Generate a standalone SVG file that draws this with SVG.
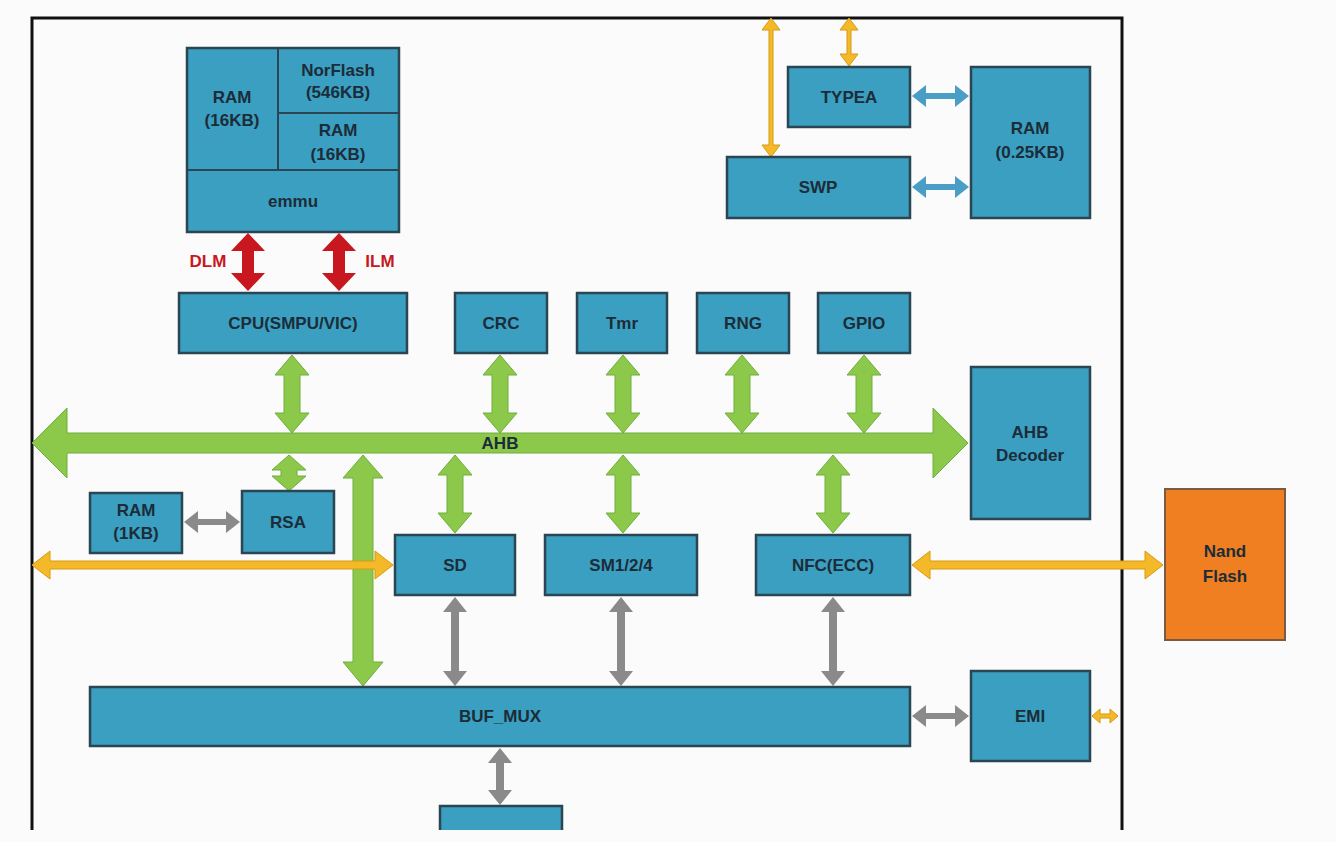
<svg xmlns="http://www.w3.org/2000/svg" width="1336" height="842" viewBox="0 0 1336 842">
<style>
.b{fill:#3a9fc0;stroke:#2b4552;stroke-width:2.5}
.t{font-family:"Liberation Sans",Arial,sans-serif;font-weight:bold;font-size:17px;fill:#1c2c38;text-anchor:middle}
.g{fill:#8cc84a;stroke:#6fae3a;stroke-width:1}
.y{fill:#f4b928;stroke:#d89a10;stroke-width:1}
.gr{fill:#8a8a8a}
.r{fill:#c8171e}
.bl{fill:#4a9ec6}
.rt{font-family:"Liberation Sans",Arial,sans-serif;font-weight:bold;font-size:17px;fill:#c8171e;text-anchor:middle}
</style>
<rect width="1336" height="842" fill="#fbfbfb"/>
<path d="M32 830V18H1122V830" fill="none" stroke="#111" stroke-width="3"/>
<g id="connectors">
<polygon class="g" points="32,443 67,408 67,433 933,433 933,408 968,443 933,478 933,453 67,453 67,478"/>
<polygon class="r" points="248,233 265,251 254,251 254,273 265,273 248,291 231,273 242,273 242,251 231,251"/>
<polygon class="r" points="339,233 356,251 345,251 345,273 356,273 339,291 322,273 333,273 333,251 322,251"/>
<polygon class="g" points="292,355 309,375 300,375 300,413 309,413 292,433 275,413 284,413 284,375 275,375"/>
<polygon class="g" points="500,355 517,375 508,375 508,413 517,413 500,433 483,413 492,413 492,375 483,375"/>
<polygon class="g" points="623,355 640,375 631,375 631,413 640,413 623,433 606,413 615,413 615,375 606,375"/>
<polygon class="g" points="742,355 759,375 750,375 750,413 759,413 742,433 725,413 734,413 734,375 725,375"/>
<polygon class="g" points="864,355 881,375 872,375 872,413 881,413 864,433 847,413 856,413 856,375 847,375"/>
<polygon class="g" points="289,455 306,470 297,470 297,476 306,476 289,491 272,476 281,476 281,470 272,470"/>
<polygon class="g" points="455,455 472,475 463,475 463,513 472,513 455,533 438,513 447,513 447,475 438,475"/>
<polygon class="g" points="623,455 640,475 631,475 631,513 640,513 623,533 606,513 615,513 615,475 606,475"/>
<polygon class="g" points="833,455 850,475 841,475 841,513 850,513 833,533 816,513 825,513 825,475 816,475"/>
<polygon class="g" points="363,455 383,478 373,478 373,662 383,662 363,686 343,662 353,662 353,478 343,478"/>
<polygon class="gr" points="184,522 198,511 198,519 226,519 226,511 240,522 226,533 226,525 198,525 198,533"/>
<polygon class="y" points="32,565 50,551 50,561 375,561 375,551 393,565 375,579 375,569 50,569 50,579"/>
<polygon class="y" points="912,565 930,551 930,561 1145,561 1145,551 1163,565 1145,579 1145,569 930,569 930,579"/>
<polygon class="gr" points="455,597 467,612 459,612 459,671 467,671 455,686 443,671 451,671 451,612 443,612"/>
<polygon class="gr" points="621,597 633,612 625,612 625,671 633,671 621,686 609,671 617,671 617,612 609,612"/>
<polygon class="gr" points="833,597 845,612 837,612 837,671 845,671 833,686 821,671 829,671 829,612 821,612"/>
<polygon class="gr" points="500,748 512,763 504,763 504,790 512,790 500,805 488,790 496,790 496,763 488,763"/>
<polygon class="gr" points="912,716 926,705 926,713 955,713 955,705 969,716 955,727 955,719 926,719 926,727"/>
<polygon class="y" points="1092,716 1100,709 1100,714 1110,714 1110,709 1118,716 1110,723 1110,718 1100,718 1100,723"/>
<polygon class="bl" points="912,96 926,85 926,93 955,93 955,85 969,96 955,107 955,99 926,99 926,107"/>
<polygon class="bl" points="912,187 926,176 926,184 955,184 955,176 969,187 955,198 955,190 926,190 926,198"/>
<polygon class="y" points="771,18 780,30 773,30 773,145 780,145 771,157 762,145 769,145 769,30 762,30"/>
<polygon class="y" points="849,18 858,30 851,30 851,54 858,54 849,66 840,54 847,54 847,30 840,30"/>
<text class="rt" x="208" y="267">DLM</text>
<text class="rt" x="380" y="267">ILM</text>
<text class="t" x="500" y="449">AHB</text>
</g>
<g id="mem">
<rect class="b" x="187" y="48" width="212" height="184"/>
<line x1="278" y1="48" x2="278" y2="170" stroke="#2b4552" stroke-width="2"/>
<line x1="278" y1="113" x2="399" y2="113" stroke="#2b4552" stroke-width="2"/>
<line x1="187" y1="170" x2="399" y2="170" stroke="#2b4552" stroke-width="2"/>
<text class="t" x="232" y="103">RAM</text><text class="t" x="232" y="126">(16KB)</text>
<text class="t" x="338" y="76">NorFlash</text><text class="t" x="338" y="98">(546KB)</text>
<text class="t" x="338" y="136">RAM</text><text class="t" x="338" y="160">(16KB)</text>
<text class="t" x="293" y="207">emmu</text>
</g>
<g id="cpu"><rect class="b" x="179" y="293" width="228" height="60"/><text class="t" x="293" y="329">CPU(SMPU/VIC)</text></g>
<g id="crc"><rect class="b" x="455" y="293" width="92" height="60"/><text class="t" x="501" y="329">CRC</text></g>
<g id="tmr"><rect class="b" x="577" y="293" width="90" height="60"/><text class="t" x="622" y="329">Tmr</text></g>
<g id="rng"><rect class="b" x="697" y="293" width="92" height="60"/><text class="t" x="743" y="329">RNG</text></g>
<g id="gpio"><rect class="b" x="818" y="293" width="92" height="60"/><text class="t" x="864" y="329">GPIO</text></g>
<g id="ahbdec"><rect class="b" x="971" y="367" width="119" height="152"/><text class="t" x="1030" y="438">AHB</text><text class="t" x="1030" y="461">Decoder</text></g>
<g id="ram1k"><rect class="b" x="90" y="493" width="92" height="60"/><text class="t" x="136" y="516">RAM</text><text class="t" x="136" y="539">(1KB)</text></g>
<g id="rsa"><rect class="b" x="242" y="491" width="92" height="62"/><text class="t" x="288" y="528">RSA</text></g>
<g id="sd"><rect class="b" x="395" y="535" width="120" height="60"/><text class="t" x="455" y="571">SD</text></g>
<g id="sm"><rect class="b" x="545" y="535" width="152" height="60"/><text class="t" x="621" y="571">SM1/2/4</text></g>
<g id="nfc"><rect class="b" x="756" y="535" width="154" height="60"/><text class="t" x="833" y="571">NFC(ECC)</text></g>
<g id="nand"><rect x="1165" y="489" width="120" height="151" fill="#f07f22" stroke="#7a5a40" stroke-width="2"/><text class="t" x="1225" y="557">Nand</text><text class="t" x="1225" y="582">Flash</text></g>
<g id="bufmux"><rect class="b" x="90" y="687" width="820" height="59"/><text class="t" x="500" y="722">BUF_MUX</text></g>
<g id="emi"><rect class="b" x="971" y="671" width="119" height="90"/><text class="t" x="1030" y="722">EMI</text></g>
<g id="bottom"><rect class="b" x="440" y="806" width="122" height="40"/></g>
<g id="typea"><rect class="b" x="788" y="67" width="122" height="60"/><text class="t" x="849" y="103">TYPEA</text></g>
<g id="swp"><rect class="b" x="727" y="157" width="183" height="61"/><text class="t" x="818" y="193">SWP</text></g>
<g id="ram025"><rect class="b" x="971" y="67" width="119" height="151"/><text class="t" x="1030" y="134">RAM</text><text class="t" x="1030" y="158">(0.25KB)</text></g>
<rect x="0" y="830" width="1336" height="12" fill="#fbfbfb"/>
</svg>
